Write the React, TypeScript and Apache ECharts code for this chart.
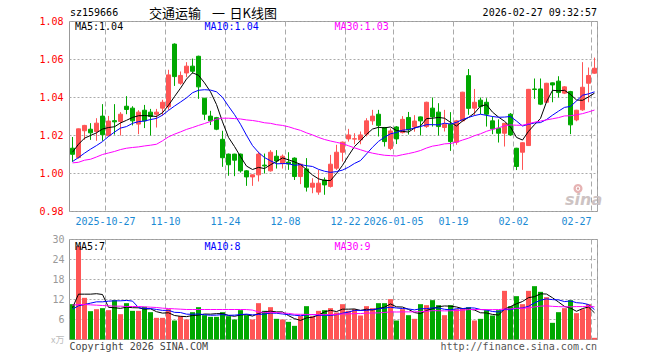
import React, { useEffect, useRef } from 'react';
import * as echarts from 'echarts';

const dates: string[] = [
  '2025-10-17',
  '2025-10-20', '2025-10-21', '2025-10-22', '2025-10-23', '2025-10-24',
  '2025-10-27', '2025-10-28', '2025-10-29', '2025-10-30', '2025-10-31',
  '2025-11-03', '2025-11-04', '2025-11-05', '2025-11-06', '2025-11-07',
  '2025-11-10', '2025-11-11', '2025-11-12', '2025-11-13', '2025-11-14',
  '2025-11-17', '2025-11-18', '2025-11-19', '2025-11-20', '2025-11-21',
  '2025-11-24', '2025-11-25', '2025-11-26', '2025-11-27', '2025-11-28',
  '2025-12-01', '2025-12-02', '2025-12-03', '2025-12-04', '2025-12-05',
  '2025-12-08', '2025-12-09', '2025-12-10', '2025-12-11', '2025-12-12',
  '2025-12-15', '2025-12-16', '2025-12-17', '2025-12-18', '2025-12-19',
  '2025-12-22', '2025-12-23', '2025-12-24', '2025-12-25', '2025-12-26',
  '2025-12-29', '2025-12-30', '2025-12-31',
  '2026-01-05', '2026-01-06', '2026-01-07', '2026-01-08', '2026-01-09',
  '2026-01-12', '2026-01-13', '2026-01-14', '2026-01-15', '2026-01-16',
  '2026-01-19', '2026-01-20', '2026-01-21', '2026-01-22', '2026-01-23',
  '2026-01-26', '2026-01-27', '2026-01-28', '2026-01-29', '2026-01-30',
  '2026-02-02', '2026-02-03', '2026-02-04', '2026-02-05', '2026-02-06',
  '2026-02-09', '2026-02-10', '2026-02-11', '2026-02-12', '2026-02-13',
  '2026-02-24', '2026-02-25', '2026-02-26', '2026-02-27',
];

const opens: number[] = [
  1.0133, 1.0084, 1.0225, 1.0233, 1.0221, 1.0302, 1.0199, 1.0278, 1.0274, 1.0354,
  1.0344, 1.0260, 1.0333, 1.0323, 1.0312, 1.0344, 1.0351, 1.0681, 1.0475, 1.0529,
  1.0565, 1.0617, 1.0396, 1.0302, 1.0294, 1.0180, 1.0102, 1.0102, 1.0102, 1.0014,
  0.9982, 0.9993, 1.0044, 1.0014, 1.0091, 1.0053, 1.0060, 1.0081, 0.9984, 1.0024,
  0.9928, 0.9902, 0.9966, 0.9932, 1.0028, 1.0112, 1.0182, 1.0181, 1.0177, 1.0207,
  1.0277, 1.0312, 1.0242, 1.0132, 1.0245, 1.0215, 1.0295, 1.0245, 1.0298, 1.0247,
  1.0344, 1.0323, 1.0242, 1.0259, 1.0165, 1.0277, 1.0515, 1.0344, 1.0386, 1.0375,
  1.0277, 1.0238, 1.0212, 1.0312, 1.0133, 1.0112, 1.0147, 1.0445, 1.0445, 1.0375,
  1.0477, 1.0486, 1.0423, 1.0431, 1.0282, 1.0335, 1.0475, 1.0528,
];

const closes: number[] = [
  1.0101, 1.0235, 1.0253, 1.0214, 1.0265, 1.0204, 1.0276, 1.0272, 1.0312, 1.0337,
  1.0277, 1.0323, 1.0277, 1.0300, 1.0323, 1.0375, 1.0519, 1.0510, 1.0516, 1.0565,
  1.0538, 1.0456, 1.0312, 1.0277, 1.0233, 1.0083, 1.0046, 1.0070, 1.0014, 0.9982,
  0.9993, 1.0102, 1.0040, 1.0112, 1.0066, 1.0091, 1.0050, 0.9984, 1.0049, 0.9928,
  0.9949, 0.9949, 0.9940, 1.0049, 1.0112, 1.0165, 1.0203, 1.0183, 1.0203, 1.0277,
  1.0302, 1.0252, 1.0168, 1.0224, 1.0182, 1.0285, 1.0230, 1.0276, 1.0277, 1.0375,
  1.0298, 1.0247, 1.0259, 1.0168, 1.0277, 1.0428, 1.0343, 1.0375, 1.0352, 1.0312,
  1.0235, 1.0212, 1.0264, 1.0203, 1.0037, 1.0162, 1.0443, 1.0442, 1.0365, 1.0475,
  1.0466, 1.0426, 1.0456, 1.0256, 1.0333, 1.0454, 1.0516, 1.0554,
];

const lows: number[] = [
  1.0062, 1.0078, 1.0177, 1.0177, 1.0172, 1.0172, 1.0195, 1.0205, 1.0200, 1.0312,
  1.0253, 1.0207, 1.0239, 1.0200, 1.0242, 1.0305, 1.0335, 1.0461, 1.0467, 1.0507,
  1.0526, 1.0393, 1.0282, 1.0255, 1.0228, 1.0035, 0.9988, 0.9986, 1.0005, 0.9935,
  0.9935, 0.9958, 1.0000, 1.0010, 1.0026, 1.0026, 1.0019, 0.9966, 0.9944, 0.9905,
  0.9896, 0.9888, 0.9888, 0.9926, 1.0019, 1.0063, 1.0168, 1.0154, 1.0154, 1.0195,
  1.0256, 1.0195, 1.0142, 1.0123, 1.0155, 1.0211, 1.0205, 1.0220, 1.0200, 1.0240,
  1.0247, 1.0200, 1.0221, 1.0119, 1.0151, 1.0272, 1.0309, 1.0305, 1.0312, 1.0247,
  1.0207, 1.0163, 1.0142, 1.0198, 1.0018, 1.0019, 1.0145, 1.0393, 1.0360, 1.0372,
  1.0375, 1.0400, 1.0418, 1.0207, 1.0275, 1.0330, 1.0375, 1.0525,
];

const highs: number[] = [
  1.0192, 1.0237, 1.0256, 1.0265, 1.0291, 1.0365, 1.0303, 1.0365, 1.0323, 1.0407,
  1.0354, 1.0333, 1.0361, 1.0340, 1.0340, 1.0388, 1.0546, 1.0685, 1.0537, 1.0586,
  1.0605, 1.0620, 1.0398, 1.0330, 1.0298, 1.0225, 1.0105, 1.0104, 1.0105, 1.0018,
  0.9995, 1.0114, 1.0105, 1.0123, 1.0123, 1.0100, 1.0112, 1.0085, 1.0052, 1.0081,
  0.9975, 1.0019, 0.9979, 1.0098, 1.0151, 1.0168, 1.0235, 1.0212, 1.0221, 1.0291,
  1.0335, 1.0335, 1.0245, 1.0237, 1.0250, 1.0302, 1.0324, 1.0307, 1.0300, 1.0378,
  1.0400, 1.0370, 1.0335, 1.0323, 1.0282, 1.0430, 1.0550, 1.0445, 1.0400, 1.0396,
  1.0300, 1.0285, 1.0266, 1.0318, 1.0135, 1.0165, 1.0445, 1.0500, 1.0500, 1.0477,
  1.0479, 1.0512, 1.0460, 1.0435, 1.0335, 1.0586, 1.0558, 1.0610,
];

// volume, in 万 (10k) units
const volumes: number[] = [
  10.6, 28.0, 12.5, 8.5, 9.1, 9.4, 8.8, 11.8, 7.6, 10.9,
  8.6, 8.6, 9.8, 8.2, 6.5, 6.5, 9.1, 5.7, 7.0, 6.0,
  8.2, 9.7, 7.3, 6.8, 6.8, 8.2, 7.0, 6.0, 8.8, 7.3,
  6.0, 10.9, 8.6, 9.7, 6.2, 6.0, 5.3, 4.1, 7.0, 10.0,
  7.0, 8.6, 8.8, 9.4, 8.1, 10.6, 8.6, 9.1, 7.2, 10.0,
  9.4, 10.9, 10.9, 12.1, 5.7, 9.1, 7.3, 6.2, 10.6, 10.3,
  11.8, 10.3, 7.3, 10.3, 9.1, 9.4, 9.7, 5.7, 6.2, 8.8,
  7.2, 8.8, 14.6, 10.0, 13.0, 10.6, 14.6, 16.0, 14.3, 12.7,
  5.0, 8.2, 9.4, 11.8, 7.9, 9.1, 10.6, 0.5,
];

// MA values at the start of the window (they depend on days before the chart)
const priceMA5Head: number[] = [1.0112, 1.0154, 1.0186, 1.0200];
const priceMA10Head: number[] = [1.0063, 1.0084, 1.0107, 1.0128, 1.0147, 1.0168, 1.0195, 1.0218, 1.0239];
const priceMA30Head: number[] = [
  1.0056, 1.0059, 1.0070, 1.0075, 1.0087, 1.0100, 1.0108, 1.0116, 1.0126, 1.0133,
  1.0137, 1.0140, 1.0145, 1.0149, 1.0154, 1.0172, 1.0193, 1.0207, 1.0219, 1.0232,
  1.0242, 1.0253, 1.0263, 1.0274, 1.0286, 1.0291, 1.0291, 1.0289, 1.0287,
];
const volMA5Head: number[] = [9.5, 13.6, 13.6, 13.6];
const volMA10Head: number[] = [9.1, 10.1, 10.5, 10.9, 11.3, 11.3, 11.5, 11.6, 11.6];
const volMA30Head: number[] = [
  10.3, 10.5, 10.5, 10.4, 10.3, 10.2, 10.1, 10.0, 10.0, 9.9,
  9.9, 9.9, 9.8, 9.7, 9.6, 9.4, 9.3, 9.2, 9.1, 9.0,
  9.0, 9.0, 9.0, 9.0, 9.0, 9.0, 9.0, 9.0, 9.0,
];

const tickDates: string[] = [
  '2025-10-27', '2025-11-10', '2025-11-24', '2025-12-08', '2025-12-22',
  '2026-01-05', '2026-01-19', '2026-02-02', '2026-02-27',
];
const tickLabels: string[] = ['2025-10-27', '11-10', '11-24', '12-08', '12-22', '2026-01-05', '01-19', '02-02', '02-27'];

const UP = '#ff5555';
const DOWN = '#00a800';
const MONO = '"DejaVu Sans Mono", "Liberation Mono", monospace';
const GRID_LINE = '#aaaaaa';

function movingAverage(values: number[], n: number, head: number[]): number[] {
  return values.map((_, i) => {
    if (i < n - 1) return head[i];
    let s = 0;
    for (let k = i - n + 1; k <= i; k++) s += values[k];
    return +(s / n).toFixed(4);
  });
}

export default function App() {
  const ref = useRef<HTMLDivElement>(null);

  useEffect(() => {
    if (!ref.current) return;
    const chart = echarts.init(ref.current, null, { renderer: 'svg' });

    const pMA5 = movingAverage(closes, 5, priceMA5Head);
    const pMA10 = movingAverage(closes, 10, priceMA10Head);
    const pMA30 = movingAverage(closes, 30, priceMA30Head);
    const vMA5 = movingAverage(volumes, 5, volMA5Head);
    const vMA10 = movingAverage(volumes, 10, volMA10Head);
    const vMA30 = movingAverage(volumes, 30, volMA30Head);
    const last = dates.length - 1;

    const candleData = dates.map((_, i) => [opens[i], closes[i], lows[i], highs[i]]);
    const volData = volumes.map((v, i) => ({
      value: v,
      itemStyle: { color: closes[i] >= opens[i] ? UP : DOWN },
    }));

    const isTick = (_i: number, v: string) => tickDates.indexOf(v) >= 0;

    const labelStyle = { fontFamily: MONO, fontSize: 10, color: '#1a8ad4' };

    const makeX = (gridIndex: number, withLabels: boolean) => ({
      type: 'category',
      gridIndex,
      data: dates,
      boundaryGap: true,
      axisLine: { show: false },
      axisTick: { show: false },
      axisLabel: withLabels
        ? {
            show: true,
            interval: isTick,
            margin: 5,
            ...labelStyle,
            formatter: (value: string) => {
              const k = tickDates.indexOf(value);
              if (k < 0) return '';
              return k === tickDates.length - 1 ? `{e|${tickLabels[k]}}` : `{c|${tickLabels[k]}}`;
            },
            rich: {
              c: { ...labelStyle, padding: [0, 6, 0, 0] },
              e: { ...labelStyle, padding: [0, 36, 0, 0] },
            },
          }
        : { show: false },
      splitLine: {
        show: true,
        interval: isTick,
        lineStyle: { color: GRID_LINE, type: [5, 3], width: 1 },
      },
    });

    const maLine = (name: string, data: number[], color: string, xi: number, yi: number) => ({
      name,
      type: 'line',
      xAxisIndex: xi,
      yAxisIndex: yi,
      data,
      showSymbol: false,
      symbol: 'none',
      silent: true,
      lineStyle: { color, width: 1 },
      itemStyle: { color },
      z: 5,
    });

    const text = (t: string, x: number, y: number, fill: string, extra: any = {}) => ({
      type: 'text',
      x,
      y,
      silent: true,
      z: 100,
      style: { text: t, fill, font: `10px ${MONO}`, verticalAlign: 'middle', align: 'left', ...extra },
    });

    const cjk = '13px "Noto Sans CJK SC", sans-serif';

    const option: any = {
      animation: false,
      backgroundColor: '#ffffff',
      grid: [
        { left: 69.5, top: 21.5, width: 528, height: 190, show: true, borderColor: '#999999', borderWidth: 1, backgroundColor: 'transparent' },
        { left: 69.5, top: 239.5, width: 528, height: 100, show: true, borderColor: '#999999', borderWidth: 1, backgroundColor: 'transparent' },
      ],
      xAxis: [makeX(0, true), makeX(1, false)],
      yAxis: [
        {
          type: 'value',
          gridIndex: 0,
          min: 0.98,
          max: 1.08,
          interval: 0.02,
          axisLine: { show: false },
          axisTick: { show: false },
          axisLabel: {
            color: '#ff0000',
            fontFamily: MONO,
            fontSize: 10,
            margin: 6,
            formatter: (v: number) => v.toFixed(2),
          },
          splitLine: { show: true, lineStyle: { color: GRID_LINE, type: [2, 2], width: 1 } },
        },
        {
          type: 'value',
          gridIndex: 1,
          min: 0,
          max: 30,
          interval: 6,
          axisLine: { show: false },
          axisTick: { show: false },
          axisLabel: {
            color: '#999999',
            fontFamily: MONO,
            fontSize: 10,
            margin: 5,
            formatter: (v: number) => (v === 0 ? '{u|x万}' : String(v)),
            rich: { u: { fontSize: 9, color: '#bbbbbb', fontFamily: '"Noto Sans CJK SC", sans-serif' } },
          },
          splitLine: { show: true, lineStyle: { color: GRID_LINE, type: [2, 2], width: 1 } },
        },
      ],
      series: [
        {
          name: 'K',
          type: 'candlestick',
          xAxisIndex: 0,
          yAxisIndex: 0,
          data: candleData,
          barWidth: 4,
          silent: true,
          itemStyle: { color: UP, color0: DOWN, borderColor: UP, borderColor0: DOWN, borderWidth: 1 },
        },
        maLine('MA5', pMA5, '#000000', 0, 0),
        maLine('MA10', pMA10, '#0000ff', 0, 0),
        maLine('MA30', pMA30, '#ff00ff', 0, 0),
        {
          name: 'VOL',
          type: 'bar',
          xAxisIndex: 1,
          yAxisIndex: 1,
          data: volData,
          barWidth: 5,
          silent: true,
        },
        maLine('VMA5', vMA5, '#000000', 1, 1),
        maLine('VMA10', vMA10, '#0000ff', 1, 1),
        maLine('VMA30', vMA30, '#ff00ff', 1, 1),
      ],
      graphic: [
        text('sz159666', 70, 12.5, '#000000'),
        { type: 'text', x: 149, y: 12.8, silent: true, style: { text: '交通运输', fill: '#000000', font: cjk, verticalAlign: 'middle' } },
        { type: 'text', x: 212, y: 12.8, silent: true, style: { text: '一', fill: '#000000', font: cjk, verticalAlign: 'middle' } },
        { type: 'text', x: 229.5, y: 12.8, silent: true, style: { text: '日K线图', fill: '#000000', font: cjk, verticalAlign: 'middle' } },
        text('2026-02-27 09:32:57', 597, 12.5, '#000000', { align: 'right' }),
        text(`MA5:${pMA5[last].toFixed(2)}`, 75, 26.5, '#000000'),
        text(`MA10:${pMA10[last].toFixed(2)}`, 204.5, 26.5, '#0000ff'),
        text(`MA30:${pMA30[last].toFixed(2)}`, 334.5, 26.5, '#ff00ff'),
        text(`MA5:${Math.floor(vMA5[last])}`, 75, 246.5, '#000000'),
        text(`MA10:${Math.floor(vMA10[last])}`, 204.5, 246.5, '#0000ff'),
        text(`MA30:${Math.floor(vMA30[last])}`, 334.5, 246.5, '#ff00ff'),
        text('Copyright 2026 SINA.COM', 69.5, 346.5, '#444444'),
        text('http://finance.sina.com.cn', 597, 346.5, '#555555', { align: 'right' }),
        {
          type: 'group',
          silent: true,
          z: 1,
          children: [
            { type: 'ring', shape: { cx: 578, cy: 188.5, r: 4.5, r0: 2.2 }, style: { fill: '#e6b3b3' } },
            { type: 'circle', shape: { cx: 578, cy: 188.5, r: 1.2 }, style: { fill: '#d9a0a0' } },
            {
              type: 'text',
              x: 565,
              y: 199,
              style: { text: 'sina', fill: '#cdc3c3', font: 'italic bold 16px "DejaVu Sans", sans-serif', verticalAlign: 'middle' },
            },
          ],
        },
      ],
    };

    chart.setOption(option);
    return () => chart.dispose();
  }, []);

  return <div ref={ref} style={{ position: 'fixed', left: 0, top: 0, width: 660, height: 360, background: '#fff' }} />;
}
